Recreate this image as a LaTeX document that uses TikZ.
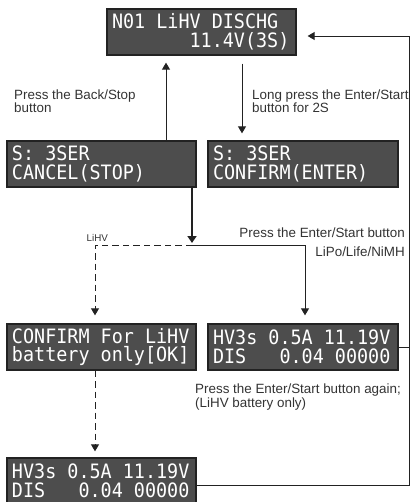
\documentclass[tikz,border=0pt]{standalone}
\usepackage{fontspec}
\setmainfont{Liberation Sans}
\newfontfamily\lcdfont[FakeStretch=0.93]{DejaVu Sans Mono}
\newcommand\lcdsetup{\lcdfont\fontsize{19.8}{18.5}\selectfont}
\newcommand\lsp{\leavevmode\hbox to \fontcharwd\font`\0{\ \hss}}
\usetikzlibrary{arrows.meta,calc}
\definecolor{lcdbg}{HTML}{4D4D4D}
\definecolor{labelgray}{HTML}{333333}
\definecolor{linegray}{HTML}{222222}
\tikzset{
  lcd/.style={draw=linegray, line width=1.3pt, fill=lcdbg, text=white,
    font=\lcdsetup, align=left,
    inner xsep=5pt, inner ysep=0pt, minimum height=46pt, anchor=center},
  lbl/.style={font=\fontsize{13.4}{13.5}\selectfont, text=labelgray, inner sep=0pt},
  smalllbl/.style={font=\fontsize{9.8}{11}\selectfont, text=labelgray, inner sep=0pt},
  conn/.style={draw=linegray, line width=0.9pt},
  arr/.style={conn, -{Triangle[length=7pt,width=8pt]}},
  dashconn/.style={conn, dash pattern=on 6.5pt off 4pt},
}
\begin{document}
\begin{tikzpicture}[x=1pt,y=-1pt]
\useasboundingbox (0,0) rectangle (410,502);
% LCD boxes
\node[lcd, text width=179pt] (top) at (201.5,32) {N01\lsp LiHV\lsp DISCHG\\\lsp\lsp\lsp\lsp\lsp\lsp\lsp 11.4V(3S)};
\node[lcd, text width=179pt] (cancel) at (101.5,164) {S:\lsp 3SER\\CANCEL(STOP)};
\node[lcd, text width=180pt] (confirm) at (303,164) {S:\lsp 3SER\\CONFIRM(ENTER)};
\node[lcd, text width=179pt] (lihv) at (101.5,347) {CONFIRM\lsp For\lsp LiHV\\battery\lsp only[OK]};
\node[lcd, text width=180pt] (hv) at (303,347) {HV3s\lsp 0.5A\lsp 11.19V\\DIS\lsp\lsp\lsp 0.04\lsp 00000};
\node[lcd, text width=179pt] (bottom) at (101.5,481) {HV3s\lsp 0.5A\lsp 11.19V\\DIS\lsp\lsp\lsp 0.04\lsp 00000};
% helper coordinates
\coordinate (upx) at (166,0);
\coordinate (dnx) at (242,0);
\coordinate (jx) at (192,0);
\coordinate (junc) at (192,245);
\coordinate (dashx) at (95,0);
\coordinate (solx) at (305,0);
\coordinate (loopb) at (409,485);
\coordinate (loopt) at (409,36);
% labels
\node[lbl, anchor=base west, align=left] (lblback) at (14,113) {Press the Back/Stop\\button};
\node[lbl, anchor=base west, align=left] (lbllong) at (252,113) {Long press the Enter/Start\\button for 2S};
\node[smalllbl, anchor=base west] (lbllihv) at (86.5,241) {LiHV};
\node[lbl, anchor=base east] (lblenter) at (405,237) {Press the Enter/Start button};
\node[lbl, anchor=base east] (lbllipo) at (405,256) {LiPo/Life/NiMH};
\node[lbl, anchor=base west, align=left] (lblagain) at (195,407) {Press the Enter/Start button again;\\(LiHV battery only)};
% connectors
\draw[arr, shorten >=7pt] (cancel.north -| upx) -- (top.south -| upx);
\draw[arr, shorten <=8pt, shorten >=7pt] (top.south -| dnx) -- (confirm.north -| dnx);
\draw[conn, line width=2.2pt, -{Triangle[length=7pt,width=9pt]}, shorten >=2pt] (cancel.south -| jx) -- (junc);
\draw[dashconn, -{Triangle[length=7pt,width=8pt]}, shorten >=8pt] (junc) -| (lihv.north -| dashx);
\draw[arr, shorten >=8pt] (junc) -| (hv.north -| solx);
\draw[dashconn, -{Triangle[length=7pt,width=8pt]}, shorten >=6pt] (lihv.south -| dashx) -- (bottom.north -| dashx);
\draw[conn] (hv.east) -- (hv.east -| loopb);
\draw[arr, shorten >=11pt] (bottom.east |- loopb) -- (loopb) -- (loopt) -- (top.east |- loopt);
\end{tikzpicture}
\end{document}
